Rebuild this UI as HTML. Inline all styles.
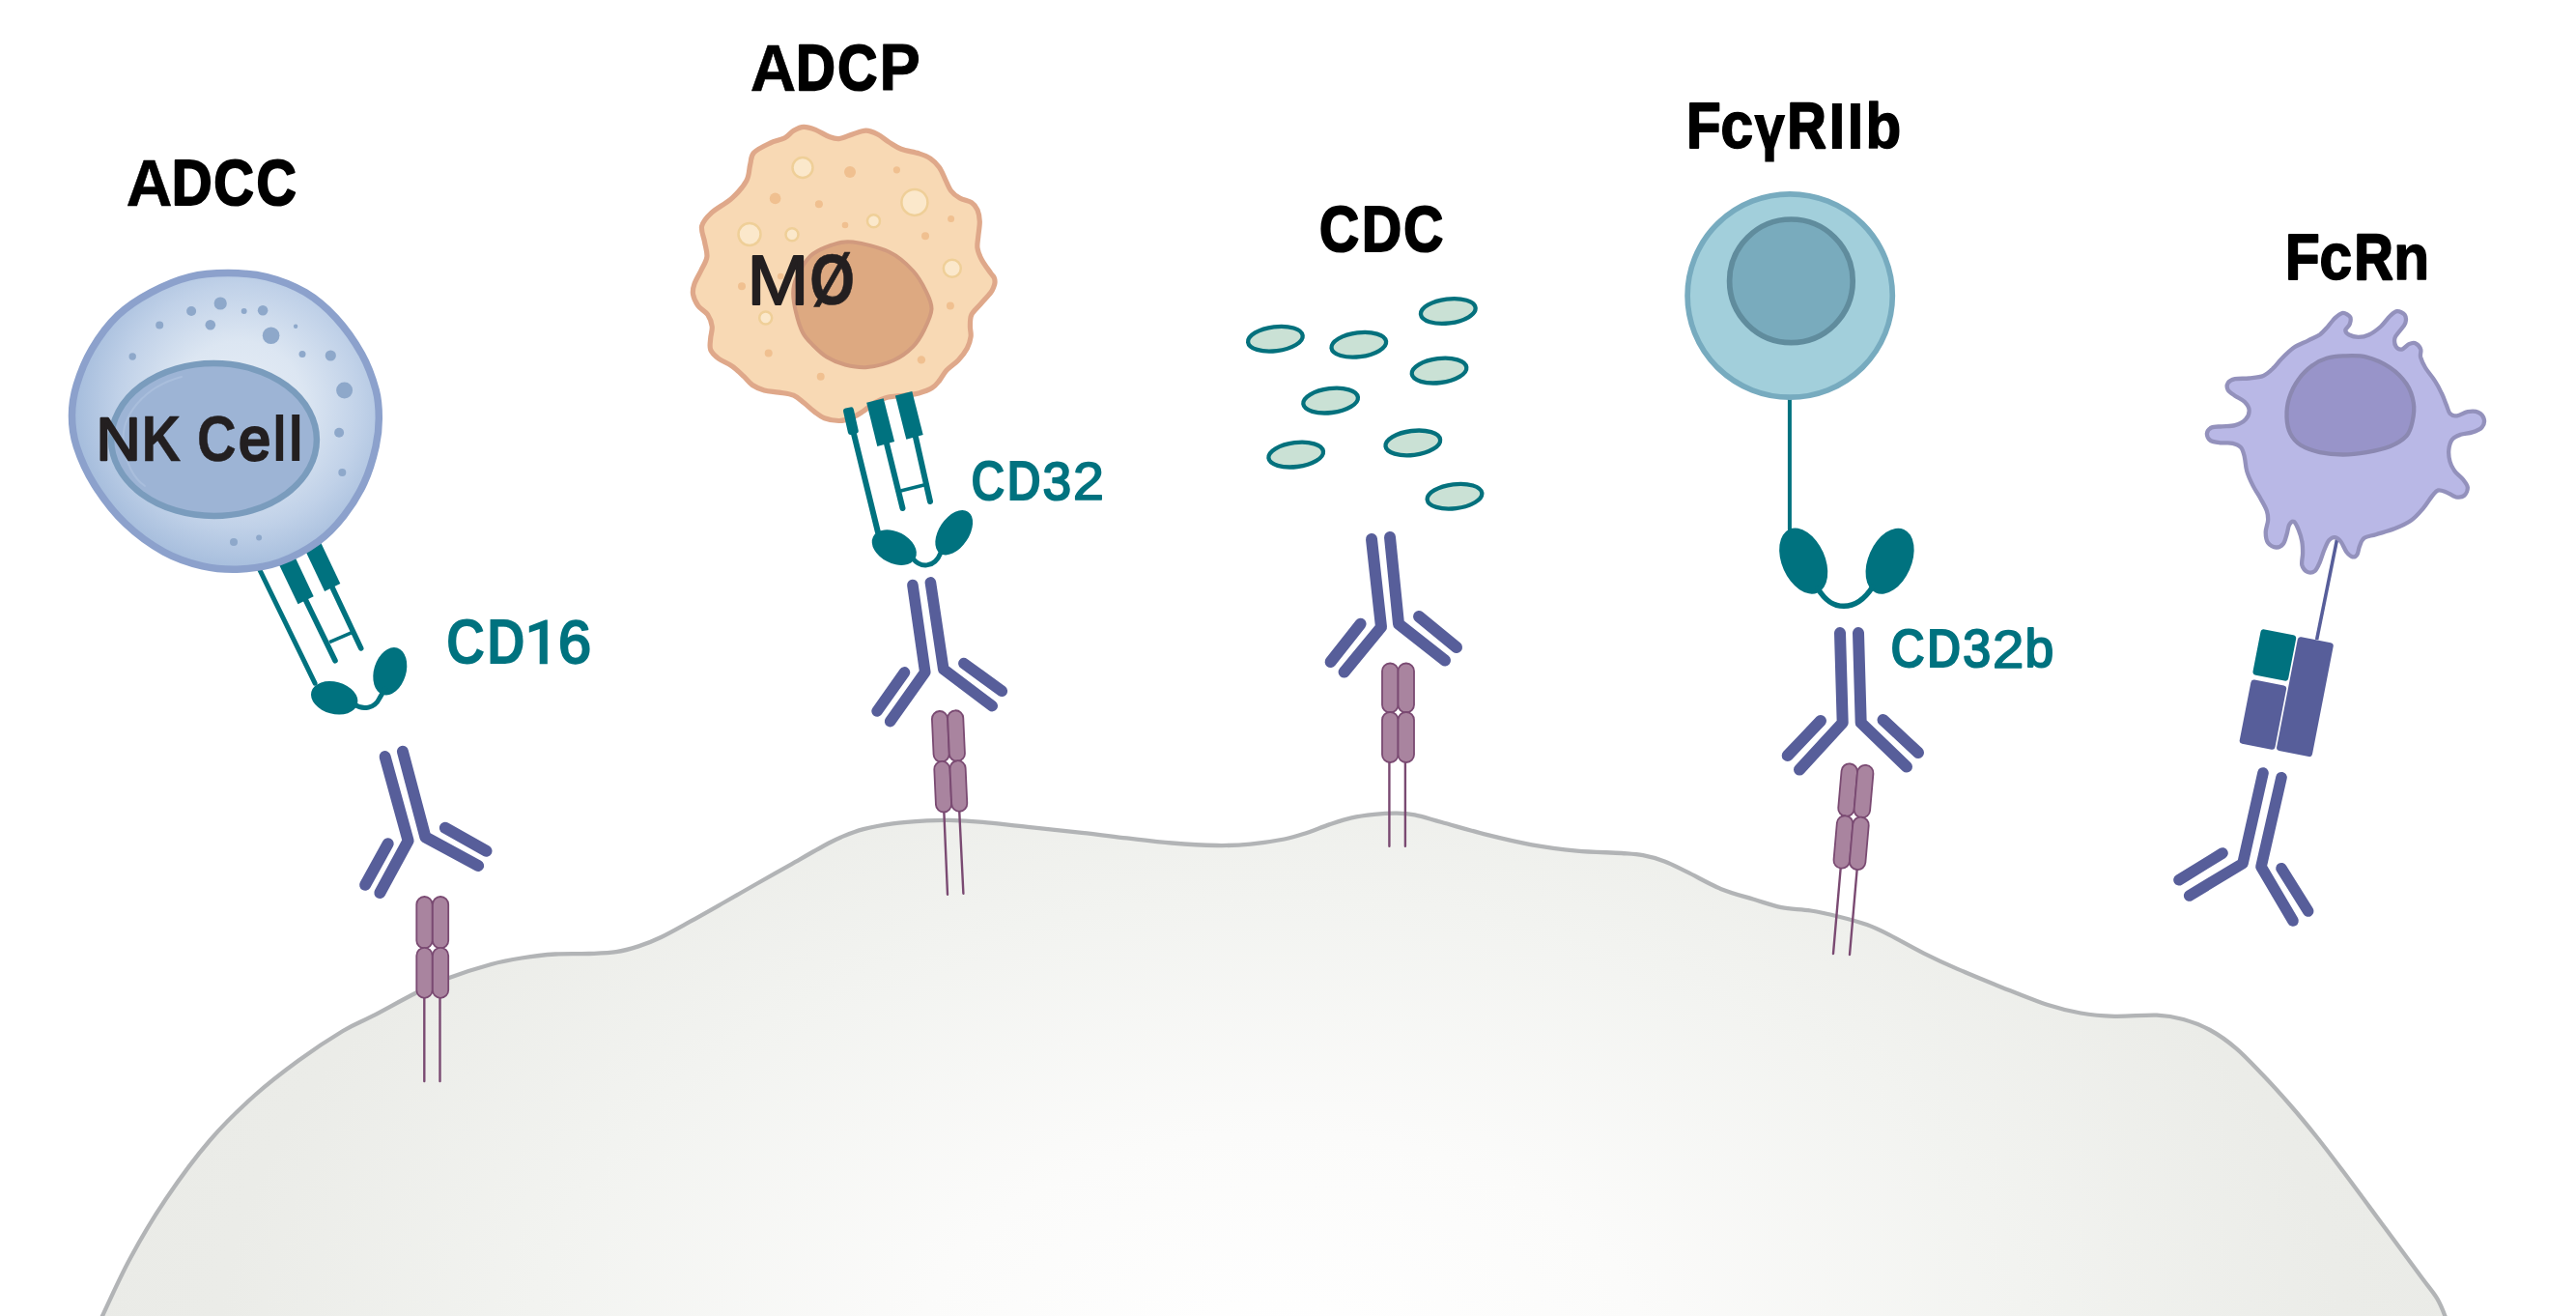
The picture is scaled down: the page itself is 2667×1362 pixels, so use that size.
<!DOCTYPE html>
<html><head><meta charset="utf-8"><title>Fc effector functions</title>
<style>
html,body{margin:0;padding:0;background:#fff;}
body{width:2667px;height:1362px;overflow:hidden;}
svg{display:block;}
text{font-family:"Liberation Sans",sans-serif;}
.ab{fill:none;stroke:#575e9a;stroke-width:12;stroke-linecap:round;stroke-linejoin:round;}
.cap{fill:#a9849f;stroke:#7a4a72;stroke-width:1.8;}
.stem{stroke:#7a4a72;stroke-width:2.4;fill:none;stroke-linecap:round;}
.t{fill:#00727f;}
.tl{stroke:#00727f;stroke-width:5;stroke-linecap:round;fill:none;}
.lbl{fill:#000;}
.tlbl{fill:#00727f;}
</style></head><body>
<svg width="2667" height="1362" viewBox="0 0 2667 1362">
<defs>
<radialGradient id="gcell" gradientUnits="userSpaceOnUse" cx="0" cy="0" r="1" gradientTransform="translate(1325 1400) scale(1250 760)">
<stop offset="0" stop-color="#ffffff"/><stop offset="0.3" stop-color="#fbfbfa"/><stop offset="0.62" stop-color="#f2f3f0"/><stop offset="0.88" stop-color="#ebece8"/><stop offset="1" stop-color="#eaebe7"/>
</radialGradient>
<radialGradient id="gnk" gradientUnits="userSpaceOnUse" cx="248" cy="420" r="168">
<stop offset="0" stop-color="#e6edf6"/><stop offset="0.4" stop-color="#dce6f2"/><stop offset="0.75" stop-color="#c0d1e8"/><stop offset="1" stop-color="#a7bedd"/>
</radialGradient>
</defs>
<rect width="2667" height="1362" fill="#fff"/>
<!-- TARGET CELL -->
<g id="bigcell">
<path d="M99.0,1378.0 C100.2,1375.3 100.0,1374.7 106.0,1362.0 C112.0,1349.3 124.0,1322.2 135.0,1302.0 C145.9,1281.8 157.9,1261.3 171.7,1241.0 C185.4,1220.7 202.2,1197.8 217.5,1180.0 C232.8,1162.2 248.0,1147.8 263.3,1134.0 C278.6,1120.2 293.9,1108.7 309.2,1097.5 C324.5,1086.3 342.3,1074.6 355.0,1067.0 C367.7,1059.4 372.8,1058.3 385.5,1051.7 C398.2,1045.1 418.1,1033.8 431.4,1027.2 C444.6,1020.6 452.3,1016.8 465.0,1012.0 C477.7,1007.2 495.3,1001.6 507.8,998.2 C520.3,994.8 528.8,993.3 540.0,991.5 C551.2,989.7 563.3,988.2 575.0,987.5 C586.7,986.8 599.5,987.4 610.0,987.0 C620.5,986.6 629.3,986.5 637.8,985.2 C646.3,983.9 653.2,981.9 661.0,979.4 C668.8,976.9 675.4,974.3 684.4,970.0 C693.4,965.7 703.8,959.7 714.7,953.7 C725.6,947.7 738.0,940.6 749.6,934.0 C761.2,927.4 773.0,920.6 784.6,914.0 C796.2,907.4 807.9,900.9 819.5,894.3 C831.1,887.7 846.0,879.1 854.5,874.5 C863.0,869.9 864.2,869.1 870.8,866.4 C877.4,863.7 885.1,860.5 894.0,858.2 C902.9,855.9 913.5,853.9 924.4,852.4 C935.3,850.9 949.6,850.0 959.3,849.4 C969.0,848.8 972.9,848.7 982.6,848.9 C992.3,849.1 1003.9,849.6 1017.5,850.8 C1031.1,852.0 1046.9,854.1 1064.0,855.9 C1081.1,857.7 1102.9,859.9 1120.0,861.8 C1137.1,863.7 1151.1,865.6 1166.6,867.4 C1182.1,869.2 1197.7,871.2 1213.2,872.5 C1228.7,873.8 1246.2,874.8 1259.8,875.0 C1273.4,875.2 1283.1,874.7 1294.7,873.6 C1306.3,872.5 1319.9,870.4 1329.6,868.5 C1339.3,866.6 1345.1,864.5 1352.9,862.0 C1360.7,859.5 1368.4,856.0 1376.2,853.4 C1384.0,850.8 1391.7,848.1 1399.5,846.4 C1407.3,844.6 1415.0,843.7 1422.8,842.9 C1430.6,842.1 1439.1,841.6 1446.1,841.7 C1453.1,841.8 1456.9,841.9 1464.7,843.4 C1472.5,844.9 1480.3,847.6 1492.7,851.0 C1505.1,854.4 1523.8,860.0 1539.3,863.9 C1554.8,867.8 1570.4,871.5 1585.9,874.3 C1601.4,877.1 1617.0,879.1 1632.5,880.6 C1648.0,882.1 1667.6,882.2 1679.0,883.0 C1690.4,883.8 1693.6,883.8 1701.0,885.2 C1708.4,886.6 1715.7,888.6 1723.3,891.5 C1730.9,894.4 1736.9,897.7 1746.6,902.4 C1756.3,907.1 1769.8,915.1 1781.5,919.9 C1793.2,924.7 1806.0,927.8 1816.5,931.0 C1827.0,934.2 1834.7,937.3 1844.4,939.2 C1854.1,941.1 1864.6,940.9 1874.7,942.5 C1884.8,944.1 1895.3,946.6 1905.0,949.0 C1914.7,951.4 1924.4,954.0 1932.9,957.1 C1941.4,960.2 1946.5,962.7 1956.2,967.6 C1965.9,972.5 1979.6,980.5 1991.2,986.3 C2002.8,992.1 2012.5,996.7 2026.1,1002.6 C2039.7,1008.5 2057.2,1015.7 2072.7,1021.9 C2088.2,1028.1 2105.7,1035.4 2119.3,1039.8 C2132.9,1044.2 2142.5,1046.5 2154.2,1048.5 C2165.8,1050.5 2176.1,1051.4 2189.2,1051.8 C2202.3,1052.2 2221.1,1050.2 2233.0,1050.7 C2244.9,1051.2 2251.3,1052.5 2260.5,1055.0 C2269.7,1057.5 2278.8,1061.0 2288.0,1066.0 C2297.2,1071.0 2306.3,1077.5 2315.5,1085.3 C2324.7,1093.1 2333.8,1103.2 2343.0,1112.8 C2352.2,1122.4 2361.3,1132.5 2370.5,1143.0 C2379.7,1153.5 2388.8,1164.5 2398.0,1176.0 C2407.2,1187.5 2416.3,1199.6 2425.5,1211.8 C2434.7,1224.0 2443.8,1236.5 2453.0,1248.9 C2462.2,1261.3 2471.3,1273.6 2480.5,1286.0 C2489.7,1298.4 2500.9,1313.6 2508.0,1323.2 C2515.1,1332.8 2519.3,1337.3 2523.2,1343.8 C2527.1,1350.3 2529.3,1356.3 2531.4,1362.0 C2533.5,1367.7 2535.2,1375.3 2536.0,1378.0 Z" fill="url(#gcell)" stroke="#b2b4b6" stroke-width="4.3" stroke-linejoin="round"/>
</g>
<!-- SECTION 1: ADCC -->
<g id="s1">
<g><text transform="translate(130.40,212.72) scale(0.9618,1)" font-size="69.16" font-weight="bold" fill="#000" stroke="#000" stroke-width="0.55" stroke-linejoin="round">A</text>
<text transform="translate(177.65,212.00) scale(0.8660,1)" font-size="67.05" font-weight="bold" fill="#000" stroke="#000" stroke-width="2.00" stroke-linejoin="round">D</text>
<text transform="translate(221.27,211.97) scale(0.8623,1)" font-size="66.98" font-weight="bold" fill="#000" stroke="#000" stroke-width="2.05" stroke-linejoin="round">C</text>
<text transform="translate(265.53,211.93) scale(0.8557,1)" font-size="66.84" font-weight="bold" fill="#000" stroke="#000" stroke-width="2.15" stroke-linejoin="round">C</text></g>
<g id="cd16">
<path class="tl" d="M268,588 L326.1,707.2" style="stroke-width:5"/>
<path class="tl" d="M316.6,621.3 L347,683.8" style="stroke-width:5.6"/>
<path class="tl" d="M344.1,608.1 L373.7,670.9" style="stroke-width:5.6"/>
<path class="tl" d="M341.1,664.6 L363.7,654.9" style="stroke-width:3.6;stroke-linecap:butt"/>
<path d="M284.8,575.8 L301.2,567.5 L324.7,617.3 L308.5,625.3 Z" class="t"/>
<path d="M312.4,562.1 L328.8,554.6 L352.3,604 L336.1,611.9 Z" class="t"/>
<ellipse class="t" cx="346.2" cy="722.3" rx="24.7" ry="16.6" transform="rotate(15 346.2 722.3)"/>
<ellipse class="t" cx="403.8" cy="694.7" rx="16.6" ry="25.3" transform="rotate(17 403.8 694.7)"/>
<path class="tl" d="M367,729 C376,735.5 388,733 393,722.5 L398.5,713" style="stroke-width:5"/>
</g>
<path d="M236.2,282.6 C249.5,282.6 262.7,283.3 276.0,286.6 C289.3,289.9 304.0,295.5 316.0,302.6 C328.0,309.7 338.1,318.5 347.9,329.1 C357.6,339.7 367.6,354.0 374.5,366.4 C381.4,378.8 386.1,392.5 389.1,403.6 C392.1,414.7 392.3,423.1 392.3,432.9 C392.3,442.6 391.6,451.0 389.1,462.1 C386.6,473.2 382.6,487.4 377.1,499.4 C371.6,511.4 363.9,523.8 355.9,534.0 C347.9,544.2 340.4,552.5 329.3,560.5 C318.2,568.5 302.7,577.0 289.4,581.8 C276.1,586.5 262.8,588.3 249.5,589.0 C236.2,589.7 222.9,588.8 209.6,585.8 C196.3,582.8 183.0,578.5 169.7,571.2 C156.4,563.9 141.8,553.4 129.8,541.9 C117.8,530.4 106.3,515.3 97.9,502.0 C89.5,488.7 83.2,474.1 79.3,462.1 C75.4,450.1 74.5,440.8 74.5,430.2 C74.5,419.6 75.8,409.8 79.3,398.3 C82.8,386.8 88.1,373.1 95.2,361.1 C102.3,349.1 111.6,336.2 121.8,326.5 C132.0,316.8 144.0,309.2 156.4,302.6 C168.8,296.0 183.0,289.9 196.3,286.6 C209.6,283.3 222.9,282.6 236.2,282.6 Z" fill="url(#gnk)" stroke="#8ca1cc" stroke-width="7.5"/>
<ellipse cx="221.5" cy="455" rx="106.4" ry="79" fill="#9db4d5" stroke="#7a9cbd" stroke-width="6.5"/>
<path d="M188,390 C150,400 124,430 128,460 C131,482 140,496 150,503" fill="none" stroke="#a9bedc" stroke-width="2" stroke-linecap="round"/>
<g fill="#8ea8ca"><circle cx="228.2" cy="314" r="6.6"/><circle cx="198.1" cy="322" r="5"/><circle cx="252.7" cy="322" r="3"/><circle cx="272.1" cy="321.2" r="5.3"/><circle cx="165.2" cy="336.6" r="4"/><circle cx="217.8" cy="336.3" r="5.3"/><circle cx="306.1" cy="337.7" r="2.2"/><circle cx="280.6" cy="347.2" r="8.8"/><circle cx="137.2" cy="369" r="3.7"/><circle cx="313" cy="366.6" r="3.5"/><circle cx="342.3" cy="368" r="5.6"/><circle cx="356.6" cy="403.9" r="8.5"/><circle cx="351.1" cy="447.8" r="5"/><circle cx="354.3" cy="489" r="4"/><circle cx="242" cy="561" r="4"/><circle cx="268.1" cy="556.5" r="3"/></g>
<g><text transform="translate(99.46,475.97) scale(1.0137,1)" font-size="63.20" font-weight="normal" fill="#231f20" stroke="#231f20" stroke-width="2.45" stroke-linejoin="round">N</text>
<text transform="translate(146.46,477.00) scale(0.8541,1)" font-size="66.18" font-weight="bold" fill="#231f20" stroke="#231f20" stroke-width="0.40" stroke-linejoin="round">K</text>
<text transform="translate(203.94,476.97) scale(0.8525,1)" font-size="66.11" font-weight="bold" fill="#231f20" stroke="#231f20" stroke-width="0.45" stroke-linejoin="round">C</text>
<text transform="translate(247.36,475.65) scale(0.9487,1)" font-size="62.25" font-weight="normal" fill="#231f20" stroke="#231f20" stroke-width="3.10" stroke-linejoin="round">e</text>
<text transform="translate(281.93,477.20) scale(0.8061,1)" font-size="66.76" font-weight="bold" fill="#231f20">l</text>
<text transform="translate(298.18,477.20) scale(0.8606,1)" font-size="66.76" font-weight="bold" fill="#231f20">l</text></g>
<g><text transform="translate(461.75,687.20) scale(0.8494,1)" font-size="66.33" font-weight="bold" fill="#00727f">C</text>
<text transform="translate(503.97,687.10) scale(0.8340,1)" font-size="66.04" font-weight="bold" fill="#00727f" stroke="#00727f" stroke-width="0.20" stroke-linejoin="round">D</text>
<path d="M566.8,641.6 L566.8,687.2 L558.7,687.2 L558.7,650.9 L547.8,654.7 L547.8,648.1 L564.6,641.6 Z" fill="#00727f"/>
<text transform="translate(578.11,686.00) scale(0.9758,1)" font-size="62.84" font-weight="normal" fill="#00727f" stroke="#00727f" stroke-width="2.40" stroke-linejoin="round">6</text></g>
<path class="ab" d="M398.6,783.1 L422.6,870.2 L393.3,924.1"/>
<path class="ab" d="M416.9,777.8 L440.4,866.4 L495.1,896"/>
<path class="ab" d="M401.7,873.2 L378.1,915.8"/>
<path class="ab" d="M460.9,856.8 L503.5,880.8"/>
<path class="stem" d="M439.3,1030 L439.3,1119 M455.5,1030 L455.5,1119"/>
<rect class="cap" x="431.3" y="928" width="16.3" height="53.5" rx="8.1"/>
<rect class="cap" x="447.9" y="928" width="16.3" height="53.5" rx="8.1"/>
<rect class="cap" x="431.3" y="980.8" width="16.3" height="52" rx="8.1"/>
<rect class="cap" x="447.9" y="980.8" width="16.3" height="52" rx="8.1"/>
</g>
<!-- SECTION 2: ADCP -->
<g id="s2">
<g><text transform="translate(776.87,93.67) scale(0.9552,1)" font-size="68.87" font-weight="bold" fill="#000" stroke="#000" stroke-width="0.65" stroke-linejoin="round">A</text>
<text transform="translate(824.34,92.80) scale(0.8437,1)" font-size="66.33" font-weight="bold" fill="#000" stroke="#000" stroke-width="2.40" stroke-linejoin="round">D</text>
<text transform="translate(867.16,92.90) scale(0.8552,1)" font-size="66.62" font-weight="bold" fill="#000" stroke="#000" stroke-width="2.20" stroke-linejoin="round">C</text>
<text transform="translate(910.41,93.47) scale(0.9285,1)" font-size="68.29" font-weight="bold" fill="#000" stroke="#000" stroke-width="1.05" stroke-linejoin="round">P</text></g>
<path d="M731.9,265.9 C732.5,261.0 730.5,256.0 729.6,250.7 C728.7,245.4 725.5,239.1 726.6,234.0 C727.8,228.9 731.3,225.1 736.5,220.3 C741.7,215.5 751.7,210.7 757.8,205.1 C763.9,199.5 769.8,192.7 772.9,186.9 C776.0,181.1 775.4,175.0 776.7,170.2 C778.0,165.4 777.1,161.7 780.5,158.0 C783.9,154.3 792.0,150.6 797.3,148.1 C802.6,145.6 808.5,145.0 812.5,142.8 C816.5,140.7 818.3,137.1 821.6,135.2 C824.9,133.3 828.4,131.5 832.2,131.4 C836.0,131.3 840.1,132.8 844.4,134.4 C848.7,136.1 854.0,139.8 858.0,141.3 C862.0,142.8 864.6,144.0 868.7,143.6 C872.8,143.2 878.0,140.4 882.6,139.0 C887.2,137.6 892.2,135.2 896.5,135.2 C900.8,135.2 904.6,137.0 908.6,139.0 C912.6,141.0 916.7,144.9 920.8,147.4 C924.9,149.9 927.9,152.3 933.0,154.2 C938.1,156.1 946.2,157.2 951.2,158.8 C956.2,160.5 959.8,161.7 963.3,164.1 C966.8,166.5 970.0,169.7 972.5,173.2 C975.0,176.7 976.5,181.2 978.5,185.3 C980.5,189.4 982.1,194.2 984.6,197.5 C987.1,200.8 990.2,203.1 993.7,205.1 C997.2,207.1 1002.9,207.7 1005.9,209.7 C1008.9,211.7 1010.6,214.0 1012.0,217.3 C1013.4,220.6 1014.2,224.9 1014.3,229.4 C1014.4,233.9 1013.2,240.0 1012.8,244.6 C1012.4,249.2 1011.4,252.8 1012.0,256.8 C1012.6,260.9 1014.2,264.6 1016.5,268.9 C1018.8,273.2 1023.6,279.5 1025.7,282.6 C1027.8,285.7 1028.6,285.9 1029.3,287.5 C1030.0,289.1 1030.1,290.8 1030.0,292.5 C1029.9,294.2 1029.3,295.8 1028.6,297.5 C1027.9,299.2 1028.0,299.9 1025.7,302.8 C1023.4,305.7 1018.3,311.2 1015.0,315.0 C1011.7,318.8 1007.7,321.8 1005.9,325.6 C1004.1,329.4 1004.5,334.0 1004.4,337.8 C1004.3,341.6 1005.6,344.6 1005.1,348.4 C1004.6,352.2 1003.4,356.4 1001.3,360.5 C999.1,364.6 995.8,368.9 992.2,372.7 C988.7,376.5 983.3,379.8 980.0,383.3 C976.7,386.9 975.0,390.9 972.5,394.0 C970.0,397.1 968.4,399.5 964.9,401.6 C961.4,403.8 956.0,405.6 951.2,406.9 C946.4,408.2 941.6,408.4 936.0,409.2 C930.4,410.0 922.9,410.2 917.8,411.5 C912.7,412.8 909.7,414.4 905.6,416.8 C901.5,419.2 897.2,423.4 893.4,425.9 C889.6,428.4 886.8,430.4 882.8,432.0 C878.8,433.6 874.0,435.4 869.1,435.5 C864.2,435.6 857.9,434.3 853.5,432.7 C849.1,431.1 846.4,428.5 842.9,425.9 C839.4,423.2 835.8,419.6 832.2,416.8 C828.7,414.0 825.9,411.0 821.6,409.2 C817.3,407.4 811.5,407.0 806.4,406.1 C801.3,405.2 795.8,405.2 791.2,403.9 C786.6,402.6 782.5,400.9 779.0,398.5 C775.5,396.1 773.4,392.7 769.9,389.4 C766.4,386.1 762.1,381.8 757.8,378.8 C753.5,375.8 747.8,374.0 744.1,371.2 C740.4,368.4 737.1,365.6 735.7,362.0 C734.3,358.4 735.5,353.9 735.7,349.9 C736.0,345.9 737.7,341.9 737.2,337.8 C736.7,333.8 735.1,329.2 732.7,325.6 C730.3,322.1 725.3,320.1 722.8,316.5 C720.3,312.9 718.1,308.1 717.5,304.3 C716.9,300.5 717.6,297.8 719.0,293.7 C720.4,289.6 723.6,284.6 725.8,280.0 C727.9,275.4 731.3,270.8 731.9,265.9 Z" fill="#f8d9b4" stroke="#dfa88a" stroke-width="5.2"/>
<path d="M883.0,250.5 C893.2,251.7 910.7,256.1 921.0,261.0 C931.3,265.9 938.7,273.2 945.0,280.0 C951.3,286.8 955.8,295.3 959.0,302.0 C962.2,308.7 964.8,313.5 964.5,320.0 C964.2,326.5 960.2,334.5 957.0,341.0 C953.8,347.5 950.3,353.7 945.0,359.0 C939.7,364.3 932.8,369.5 925.0,373.0 C917.2,376.5 906.3,379.2 898.0,380.0 C889.7,380.8 882.0,379.2 875.0,377.5 C868.0,375.8 861.6,372.9 856.0,369.5 C850.4,366.1 845.7,361.2 841.5,357.0 C837.3,352.8 833.9,349.7 831.0,344.0 C828.1,338.3 825.6,329.8 824.0,323.0 C822.4,316.2 821.1,308.9 821.2,303.0 C821.3,297.1 821.5,293.8 824.5,287.5 C827.5,281.2 833.1,270.6 839.0,265.0 C844.9,259.4 852.7,256.4 860.0,254.0 C867.3,251.6 872.8,249.3 883.0,250.5 Z" fill="#dda981" stroke="#d19a7e" stroke-width="4"/>
<g fill="#fbe8cb" stroke="#efcf98" stroke-width="2.5">
<circle cx="831" cy="173.5" r="10.5"/><circle cx="776" cy="242.5" r="11.5"/><circle cx="820" cy="242.8" r="6.5"/><circle cx="946.9" cy="209.4" r="13.5"/><circle cx="904.5" cy="228.7" r="6.5"/><circle cx="985.8" cy="277.8" r="9"/><circle cx="792.7" cy="329" r="6.5"/>
</g>
<g fill="#f0c090">
<circle cx="880" cy="178" r="6"/><circle cx="802.6" cy="205.4" r="5.8"/><circle cx="847.9" cy="211.2" r="4"/><circle cx="875" cy="233" r="3.3"/><circle cx="768" cy="296.3" r="4"/><circle cx="808.2" cy="286" r="3.3"/><circle cx="928.4" cy="175.8" r="3.6"/><circle cx="984.6" cy="226.4" r="3.5"/><circle cx="958" cy="244.2" r="4"/><circle cx="983.9" cy="316.5" r="4"/><circle cx="953.9" cy="372.4" r="4.2"/><circle cx="795.7" cy="365.4" r="4"/><circle cx="849.7" cy="389.7" r="4"/>
</g>
<g><text transform="translate(773.39,314.75) scale(1.0649,1)" font-size="72.00" font-weight="normal" fill="#231f20" stroke="#231f20" stroke-width="1.90" stroke-linejoin="round">M</text>
<text transform="translate(838.26,315.38) scale(0.8151,1)" font-size="73.82" font-weight="bold" fill="#231f20" stroke="#231f20" stroke-width="0.65" stroke-linejoin="round">Ø</text></g>
<!-- CD32 receptor -->
<g id="cd32">
<rect class="t" x="-5.5" y="-14" width="11" height="28" rx="3" transform="translate(880.9,435.7) rotate(-12.6)"/>
<path class="tl" d="M884,449 L909,551" style="stroke-width:6"/>
<path class="tl" d="M917,455 L934.5,526" style="stroke-width:6"/>
<path class="tl" d="M947,448 L963,519" style="stroke-width:6"/>
<path class="tl" d="M932.5,508 L957.5,501.8" style="stroke-width:3.6;stroke-linecap:butt"/>
<path class="t" d="M897.2,416.8 L914.7,412.2 L926.1,457 L908.3,462 Z"/>
<path class="t" d="M926.9,409.5 L944.3,404.9 L955.7,449.9 L938.3,454.8 Z"/>
<ellipse class="t" cx="925.8" cy="566.6" rx="24.5" ry="16.3" transform="rotate(27 925.8 566.6)"/>
<ellipse class="t" cx="987.7" cy="551.2" rx="26" ry="15.5" transform="rotate(-56 987.7 551.2)"/>
<path class="tl" d="M945,578 C952,587 967,589.5 974,572" style="stroke-width:4.8"/>
</g>
<g><text transform="translate(1005.11,517.90) scale(0.8512,1)" font-size="58.47" font-weight="bold" fill="#00727f">C</text>
<text transform="translate(1042.24,517.90) scale(0.8516,1)" font-size="58.47" font-weight="bold" fill="#00727f">D</text>
<text transform="translate(1079.39,516.88) scale(0.9610,1)" font-size="55.49" font-weight="normal" fill="#00727f" stroke="#00727f" stroke-width="2.05" stroke-linejoin="round">3</text>
<text transform="translate(1110.84,517.17) scale(1.0334,1)" font-size="56.36" font-weight="normal" fill="#00727f" stroke="#00727f" stroke-width="1.45" stroke-linejoin="round">2</text></g>
<!-- antibody 2 -->
<path class="ab" d="M944.9,605.5 L957.8,695.7 L921.6,746.6" style="stroke-width:11.6"/>
<path class="ab" d="M963.4,602.9 L976.8,692.7 L1027.2,730.6" style="stroke-width:11.6"/>
<path class="ab" d="M936.5,695.9 L908.1,736" style="stroke-width:11.6"/>
<path class="ab" d="M997.9,686.6 L1037.3,715.3" style="stroke-width:11.6"/>
<!-- receptor 2 -->
<path class="stem" d="M977.3,839 L981,925.7 M993.2,839 L997.4,924.8"/>
<g transform="rotate(-2.6 983 787.7)">
<rect class="cap" x="966.9" y="735.6" width="16.1" height="52.6" rx="8"/>
<rect class="cap" x="983.2" y="735.6" width="16.1" height="52.6" rx="8"/>
<rect class="cap" x="966.9" y="787.6" width="16.1" height="52.6" rx="8"/>
<rect class="cap" x="983.2" y="787.6" width="16.1" height="52.6" rx="8"/>
</g>
</g>
<!-- SECTION 3: CDC -->
<g id="s3">
<g><text transform="translate(1366.07,259.70) scale(0.8624,1)" font-size="66.04" font-weight="bold" fill="#000" stroke="#000" stroke-width="2.20" stroke-linejoin="round">C</text>
<text transform="translate(1410.11,259.70) scale(0.8605,1)" font-size="66.04" font-weight="bold" fill="#000" stroke="#000" stroke-width="2.20" stroke-linejoin="round">D</text>
<text transform="translate(1453.37,259.70) scale(0.8602,1)" font-size="66.04" font-weight="bold" fill="#000" stroke="#000" stroke-width="2.20" stroke-linejoin="round">C</text></g>
<g fill="#cae1d5" stroke="#04717d" stroke-width="4.3">
<ellipse cx="1320.4" cy="350.7" rx="28.5" ry="12.5" transform="rotate(-7 1320.4 350.7)"/>
<ellipse cx="1406.8" cy="356.8" rx="28.5" ry="12.5" transform="rotate(-7 1406.8 356.8)"/>
<ellipse cx="1499.3" cy="322" rx="28.5" ry="12.5" transform="rotate(-7 1499.3 322)"/>
<ellipse cx="1490" cy="383.6" rx="28.5" ry="12.5" transform="rotate(-7 1490 383.6)"/>
<ellipse cx="1377.6" cy="414.6" rx="28.5" ry="12.5" transform="rotate(-7 1377.6 414.6)"/>
<ellipse cx="1462.8" cy="458.4" rx="28.5" ry="12.5" transform="rotate(-7 1462.8 458.4)"/>
<ellipse cx="1341.7" cy="470.6" rx="28.5" ry="12.5" transform="rotate(-7 1341.7 470.6)"/>
<ellipse cx="1506" cy="513.7" rx="28.5" ry="12.5" transform="rotate(-7 1506 513.7)"/>
</g>
<path class="ab" d="M1420,558 L1430,649 L1391.6,695.6"/>
<path class="ab" d="M1439,556 L1448,645.7 L1496,683.5"/>
<path class="ab" d="M1408.6,645.7 L1377.6,685"/>
<path class="ab" d="M1469,638 L1508,670"/>
<path class="stem" d="M1438.4,787 L1438.4,875.7 M1454.9,787 L1454.9,875.7"/>
<rect class="cap" x="1431" y="686.5" width="16.5" height="51" rx="8"/>
<rect class="cap" x="1447.5" y="686.5" width="16.5" height="51" rx="8"/>
<rect class="cap" x="1431" y="737" width="16.5" height="52" rx="8"/>
<rect class="cap" x="1447.5" y="737" width="16.5" height="52" rx="8"/>
</g>
<!-- SECTION 4: FcgRIIb -->
<g id="s4">
<g><text transform="translate(1746.01,152.93) scale(0.8726,1)" font-size="66.84" font-weight="bold" fill="#000" stroke="#000" stroke-width="1.95" stroke-linejoin="round">F</text>
<text transform="translate(1781.19,153.20) scale(0.9048,1)" font-size="67.64" font-weight="bold" fill="#000" stroke="#000" stroke-width="1.40" stroke-linejoin="round">c</text>
<path d="M1816.04,118.92 L1825.74,118.92 L1832.34,141.44 L1839.33,118.92 L1848.35,118.92 L1836.71,153.57 L1836.71,167.45 L1827.39,167.45 L1827.39,153.57 Z" fill="#000"/>
<text transform="translate(1850.40,152.65) scale(0.8403,1)" font-size="66.04" font-weight="bold" fill="#000" stroke="#000" stroke-width="2.50" stroke-linejoin="round">R</text>
<text transform="translate(1892.21,153.90) scale(1.0184,1)" font-size="68.22" font-weight="bold" fill="#000">I</text>
<text transform="translate(1911.41,153.90) scale(0.9978,1)" font-size="68.22" font-weight="bold" fill="#000">I</text>
<text transform="translate(1931.51,153.10) scale(0.8930,1)" font-size="67.35" font-weight="bold" fill="#000" stroke="#000" stroke-width="1.60" stroke-linejoin="round">b</text></g>
<path class="tl" d="M1852.9,410 L1852.9,552" style="stroke-width:4;stroke-linecap:butt"/>
<ellipse cx="1853.2" cy="306" rx="106.1" ry="105.2" fill="#a2cfdb" stroke="#77abbf" stroke-width="5.7"/>
<circle cx="1854.4" cy="290.8" r="63.8" fill="#79abbd" stroke="#608c9d" stroke-width="5.7"/>
<ellipse class="t" cx="1867.2" cy="580.6" rx="22.3" ry="35.9" transform="rotate(-24 1867.2 580.6)"/>
<ellipse class="t" cx="1956.6" cy="580.7" rx="22.3" ry="35.9" transform="rotate(24 1956.6 580.7)"/>
<path class="tl" d="M1882,609 C1891,624 1900,627.3 1909,627.3 C1919,627.3 1930,621 1939,607" style="stroke-width:5.4"/>
<g><text transform="translate(1956.98,691.30) scale(0.8659,1)" font-size="58.18" font-weight="bold" fill="#00727f">C</text>
<text transform="translate(1994.64,691.30) scale(0.8559,1)" font-size="58.18" font-weight="bold" fill="#00727f">D</text>
<text transform="translate(2032.19,690.20) scale(0.9464,1)" font-size="54.98" font-weight="normal" fill="#00727f" stroke="#00727f" stroke-width="2.20" stroke-linejoin="round">3</text>
<text transform="translate(2062.76,690.62) scale(1.0509,1)" font-size="56.22" font-weight="normal" fill="#00727f" stroke="#00727f" stroke-width="1.35" stroke-linejoin="round">2</text>
<text transform="translate(2096.59,690.30) scale(0.9675,1)" font-size="55.27" font-weight="normal" fill="#00727f" stroke="#00727f" stroke-width="2.00" stroke-linejoin="round">b</text></g>
<path class="ab" d="M1905,655 L1907.7,748 L1863,796.6"/>
<path class="ab" d="M1924,655 L1926.7,748 L1974,793.6"/>
<path class="ab" d="M1885,746 L1850.7,782"/>
<path class="ab" d="M1949.5,745 L1986,779"/>
<path class="stem" d="M1905.8,897 L1898,987 M1922.9,897 L1915,988"/>
<g transform="rotate(5 1919 845)">
<rect class="cap" x="1902.5" y="791" width="16.5" height="54.5" rx="8"/>
<rect class="cap" x="1919" y="791" width="16.5" height="54.5" rx="8"/>
<rect class="cap" x="1902.5" y="845" width="16.5" height="54.5" rx="8"/>
<rect class="cap" x="1919" y="845" width="16.5" height="54.5" rx="8"/>
</g>
</g>
<!-- SECTION 5: FcRn -->
<g id="s5">
<g><text transform="translate(2365.91,288.82) scale(0.8726,1)" font-size="66.84" font-weight="bold" fill="#000" stroke="#000" stroke-width="1.95" stroke-linejoin="round">F</text>
<text transform="translate(2401.29,289.10) scale(0.9048,1)" font-size="67.64" font-weight="bold" fill="#000" stroke="#000" stroke-width="1.40" stroke-linejoin="round">c</text>
<text transform="translate(2437.40,288.55) scale(0.8403,1)" font-size="66.04" font-weight="bold" fill="#000" stroke="#000" stroke-width="2.50" stroke-linejoin="round">R</text>
<text transform="translate(2478.17,289.03) scale(0.8964,1)" font-size="67.42" font-weight="bold" fill="#000" stroke="#000" stroke-width="1.55" stroke-linejoin="round">n</text></g>
<path d="M2419.6,558 L2398.6,662" stroke="#575e9a" stroke-width="3.6" fill="none"/>
<path d="M2418.6,328.2 C2420.4,326.9 2423.5,323.9 2425.9,323.9 C2428.3,323.9 2432.1,326.3 2433.2,328.2 C2434.3,330.2 2433.5,333.3 2432.7,335.5 C2431.9,337.8 2428.4,339.8 2428.3,341.6 C2428.2,343.4 2429.7,345.3 2432.0,346.5 C2434.2,347.7 2438.3,348.9 2441.7,348.9 C2445.1,348.9 2448.8,348.3 2452.6,346.5 C2456.5,344.7 2461.2,341.2 2464.8,338.0 C2468.4,334.7 2471.7,329.7 2474.5,327.0 C2477.4,324.4 2479.3,322.4 2481.8,322.2 C2484.3,322.0 2488.2,323.8 2489.6,325.8 C2491.0,327.8 2491.2,331.5 2490.3,334.3 C2489.4,337.2 2486.1,340.2 2484.3,342.8 C2482.4,345.5 2480.0,347.5 2479.4,350.1 C2478.8,352.8 2479.4,356.7 2480.6,358.6 C2481.8,360.5 2484.5,362.0 2486.7,361.6 C2488.9,361.1 2491.8,357.3 2494.0,356.2 C2496.2,355.1 2498.0,354.2 2500.1,355.0 C2502.1,355.8 2505.1,358.6 2506.1,361.1 C2507.2,363.5 2505.3,366.3 2506.1,369.6 C2507.0,372.8 2508.6,376.5 2511.0,380.5 C2513.4,384.6 2517.9,389.4 2520.7,393.9 C2523.6,398.3 2526.0,403.0 2528.0,407.3 C2530.1,411.5 2531.5,416.0 2532.9,419.4 C2534.3,422.9 2534.7,426.1 2536.5,427.9 C2538.4,429.8 2540.8,430.6 2543.8,430.4 C2546.9,430.1 2551.1,426.8 2554.8,426.2 C2558.4,425.6 2562.9,425.4 2565.7,426.7 C2568.6,428.0 2571.2,431.4 2571.8,434.0 C2572.4,436.6 2571.4,440.3 2569.4,442.5 C2567.3,444.8 2563.3,446.2 2559.6,447.4 C2556.0,448.6 2550.9,448.6 2547.5,449.8 C2544.0,451.0 2541.0,452.0 2539.0,454.7 C2536.9,457.3 2535.7,461.8 2535.3,465.6 C2534.9,469.5 2535.5,474.1 2536.5,477.8 C2537.5,481.4 2539.2,484.5 2541.4,487.5 C2543.6,490.5 2547.7,493.2 2549.9,496.0 C2552.1,498.9 2554.6,501.7 2554.8,504.5 C2555.0,507.4 2553.2,511.4 2551.1,513.0 C2549.1,514.7 2545.7,514.9 2542.6,514.3 C2539.6,513.6 2535.9,510.5 2532.9,509.4 C2529.8,508.3 2526.8,506.8 2524.4,507.4 C2521.9,508.1 2520.9,509.9 2518.3,513.0 C2515.7,516.2 2512.2,522.2 2508.6,526.4 C2504.9,530.7 2501.3,535.1 2496.4,538.6 C2491.6,542.0 2485.5,544.7 2479.4,547.1 C2473.3,549.5 2465.2,551.5 2459.9,553.2 C2454.7,554.8 2450.6,554.8 2447.8,556.8 C2444.9,558.8 2444.1,562.5 2442.9,565.3 C2441.7,568.2 2441.7,572.0 2440.5,573.8 C2439.3,575.7 2437.4,576.7 2435.6,576.3 C2433.8,575.9 2431.6,574.0 2429.5,571.4 C2427.5,568.8 2425.5,563.0 2423.5,560.5 C2421.4,557.9 2419.4,556.3 2417.4,556.1 C2415.4,555.9 2413.1,557.1 2411.3,559.2 C2409.5,561.4 2408.1,565.1 2406.4,569.0 C2404.8,572.8 2403.2,578.7 2401.6,582.3 C2400.0,586.0 2398.7,589.2 2396.7,590.9 C2394.7,592.5 2391.7,593.1 2389.4,592.1 C2387.2,591.1 2384.2,588.0 2383.3,584.8 C2382.5,581.5 2384.1,576.7 2384.1,572.6 C2384.1,568.6 2384.1,564.5 2383.3,560.5 C2382.6,556.4 2381.1,551.7 2379.7,548.3 C2378.3,544.9 2376.5,540.6 2374.8,539.8 C2373.2,539.0 2371.2,541.2 2370.0,543.4 C2368.8,545.7 2368.6,549.9 2367.5,553.2 C2366.5,556.4 2365.7,560.7 2363.9,562.9 C2362.1,565.1 2359.2,566.7 2356.6,566.5 C2354.0,566.3 2349.9,564.3 2348.1,561.7 C2346.3,559.0 2345.7,554.6 2345.7,550.7 C2345.7,546.9 2347.9,542.2 2348.1,538.6 C2348.3,534.9 2348.1,532.5 2346.9,528.8 C2345.7,525.2 2343.2,521.1 2340.8,516.7 C2338.4,512.2 2334.7,507.0 2332.3,502.1 C2329.8,497.2 2327.6,492.4 2326.2,487.5 C2324.8,482.6 2324.8,477.0 2323.8,472.9 C2322.8,468.9 2322.1,465.5 2320.1,463.2 C2318.1,460.8 2315.1,459.6 2311.6,458.8 C2308.2,458.0 2303.3,458.8 2299.5,458.3 C2295.6,457.8 2290.9,457.5 2288.5,455.9 C2286.1,454.3 2284.7,450.8 2284.9,448.6 C2285.1,446.4 2287.1,443.7 2289.7,442.5 C2292.4,441.3 2296.6,441.7 2300.7,441.3 C2304.7,440.9 2310.0,441.3 2314.0,440.1 C2318.1,438.9 2322.6,436.6 2325.0,434.0 C2327.4,431.4 2328.8,427.3 2328.6,424.3 C2328.4,421.2 2326.2,418.2 2323.8,415.8 C2321.3,413.3 2316.9,411.7 2314.0,409.7 C2311.2,407.7 2308.0,405.8 2306.7,403.6 C2305.5,401.4 2305.5,398.2 2306.7,396.3 C2308.0,394.4 2310.4,393.0 2314.0,392.2 C2317.7,391.4 2323.8,392.0 2328.6,391.5 C2333.5,390.9 2339.2,390.6 2343.2,389.0 C2347.3,387.4 2349.7,384.8 2352.9,381.7 C2356.2,378.7 2359.0,374.4 2362.7,370.8 C2366.3,367.1 2370.4,362.9 2374.8,359.8 C2379.3,356.8 2385.0,354.8 2389.4,352.6 C2393.9,350.3 2398.1,348.9 2401.6,346.5 C2405.0,344.0 2407.9,340.4 2410.1,338.0 C2412.3,335.5 2413.5,333.5 2415.0,331.9 C2416.4,330.3 2416.8,329.6 2418.6,328.2 Z" fill="#b9b8e6" stroke="#9391bc" stroke-width="4.3"/>
<path d="M2425.9,368.4 C2432.8,368.2 2442.1,367.5 2450.2,369.6 C2458.3,371.6 2467.6,375.9 2474.5,380.5 C2481.4,385.2 2487.5,391.5 2491.6,397.5 C2495.6,403.6 2497.8,410.5 2498.8,417.0 C2499.9,423.5 2498.8,430.8 2497.6,436.4 C2496.4,442.1 2495.4,446.8 2491.6,451.0 C2487.7,455.3 2481.4,459.1 2474.5,462.0 C2467.6,464.8 2458.3,466.6 2450.2,468.1 C2442.1,469.5 2434.0,470.5 2425.9,470.5 C2417.8,470.5 2408.9,469.7 2401.6,468.1 C2394.3,466.4 2387.2,464.0 2382.1,460.8 C2377.1,457.5 2373.6,453.5 2371.2,448.6 C2368.8,443.7 2367.7,437.7 2367.5,431.6 C2367.3,425.5 2367.9,418.6 2370.0,412.1 C2372.0,405.6 2375.6,398.3 2379.7,392.7 C2383.7,387.0 2389.4,381.7 2394.3,378.1 C2399.1,374.4 2403.6,372.4 2408.9,370.8 C2414.1,369.2 2419.0,368.6 2425.9,368.4 Z" fill="#9894c9" stroke="#8b88b1" stroke-width="4.3"/>
<rect x="0" y="0" width="37.4" height="48.3" rx="3.6" fill="#00727f" transform="translate(2341.1,650.7) rotate(11)"/>
<rect x="0" y="0" width="37.4" height="67.4" rx="3.2" fill="#575e9a" transform="translate(2331,703) rotate(11)"/>
<rect x="0" y="0" width="37.6" height="120" rx="3.2" fill="#575e9a" transform="translate(2379.4,658.7) rotate(11)"/>
<path class="ab" d="M2343,800 L2322,893.6 L2266.7,927" style="stroke-width:11.6"/>
<path class="ab" d="M2362,804.7 L2341,897 L2374,953" style="stroke-width:11.6"/>
<path class="ab" d="M2301,883 L2256,910.7" style="stroke-width:11.6"/>
<path class="ab" d="M2362,898.7 L2389.7,943" style="stroke-width:11.6"/>
</g>
</svg></body></html>
